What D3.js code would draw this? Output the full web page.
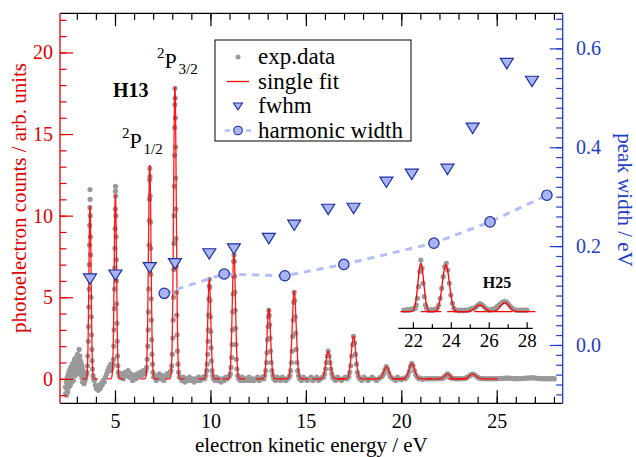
<!DOCTYPE html>
<html><head><meta charset="utf-8">
<script src="https://cdn.jsdelivr.net/npm/d3@7"></script>
<style>body{margin:0;background:#fff}svg{display:block}text{font-family:"Liberation Serif","Times New Roman",serif}</style>
</head><body><svg id="c" width="636" height="457"></svg>
<script>
// ---- data ----
const peakCenters=[3.69,5.02,6.82,8.14,9.94,11.23,13.06,14.39,16.17,17.50,19.22,20.55,22.42,23.74,25.53,26.85];
const peakHeights=[10.6,11.3,13.1,17.9,6.05,7.7,4.28,5.36,1.68,2.6,0.72,0.92,0.29,0.28,0.040,0.054];
const peakFwhm=[0.136,0.144,0.159,0.167,0.187,0.197,0.218,0.245,0.277,0.279,0.332,0.348,0.358,0.441,0.572,0.536];
const harmonicX=[7.58,10.72,13.90,16.99,21.71,24.65,27.63];
const harmonicWidth=[0.1045,0.1436,0.140,0.163,0.206,0.249,0.303];
const xTicks=[5,10,15,20,25];
const yLeftTicks=[0,5,10,15,20];
const yRightTicks=[0.0,0.2,0.4,0.6];
const insetTicks=[22,24,26,28];
const legendLabels=["exp.data","single fit","fwhm","harmonic width"];
const expData=[
[2.40,-0.5],[2.42,-0.9],[2.44,-0.2],[2.46,-1.0],[2.48,-0.6],[2.50,0.1],[2.52,-0.8],[2.54,-0.3],[2.56,0.3],[2.58,-0.5],[2.60,0.5],[2.62,-0.1],[2.64,0.2],[2.66,-0.4],[2.68,0.7],[2.70,0.0],[2.72,0.4],[2.74,-0.2],[2.76,0.9],[2.78,0.3],[2.80,0.6],[2.82,-0.1],[2.84,1.0],[2.86,0.4],[2.88,1.2],[2.90,0.2],[2.92,0.8],[2.94,0.5],[2.96,1.3],[2.98,0.6],[3.00,1.0],[3.02,0.3],[3.04,1.5],[3.06,0.8],[3.08,1.2],[3.10,0.5],[3.12,1.8],[3.14,1.0],[3.16,1.4],[3.18,0.6],[3.20,1.1],[3.22,0.3],[3.24,0.9],[3.26,0.1],[3.28,0.7],[3.30,-0.2],[3.32,0.5],[3.34,-0.1],[3.36,0.3],[3.38,-0.3],[3.40,0.2],[3.42,-0.1],[3.44,0.3],[3.46,0.0],[3.48,0.2],
[3.50,0.3],[3.53,0.4],[3.56,0.8],[3.58,1.4],[3.60,2.3],[3.615,3.2],[3.63,4.4],[3.645,5.5],[3.655,7.0],[3.665,8.2],[3.675,9.4],[3.683,10.5],[3.69,11.6],[3.697,11.0],[3.705,10.0],[3.713,8.7],[3.722,7.6],[3.732,6.3],[3.742,5.0],[3.755,3.8],[3.77,2.7],[3.785,1.8],[3.80,1.1],[3.82,0.6],[3.85,0.2],[3.88,0.0],
[3.92,-0.1],[3.97,-0.4],[4.02,-0.6],[4.07,-0.5],[4.12,-0.7],[4.17,-0.4],[4.22,-0.6],[4.27,-0.3],[4.32,-0.4],[4.38,-0.1],[4.44,-0.2],[4.50,0.1],[4.56,0.3],[4.62,0.5],[4.68,0.7],[4.73,0.5],[4.78,0.9],[4.83,0.6],[4.87,0.8],[4.90,0.9],
[4.92,1.2],[4.94,2.0],[4.955,3.0],[4.97,4.3],[4.98,5.5],[4.99,6.8],[5.00,8.0],[5.008,9.2],[5.015,10.4],[5.022,11.5],[5.03,11.8],[5.038,11.2],[5.046,10.0],[5.055,8.7],[5.065,7.3],[5.075,6.0],[5.087,4.6],[5.10,3.4],[5.115,2.3],[5.13,1.4],[5.15,0.8],[5.18,0.4],[5.22,0.2],
[5.28,0.1],[5.36,0.3],[5.44,0.0],[5.52,0.4],[5.60,0.2],[5.68,0.5],[5.76,0.1],[5.84,0.3],[5.92,-0.1],[6.00,0.2],[6.08,0.0],[6.16,0.3],[6.24,0.1],[6.32,0.4],[6.40,0.2],[6.48,0.5],[6.55,0.3],[6.62,0.5],
[6.66,0.7],[6.69,1.2],[6.72,2.0],[6.74,3.0],[6.755,4.1],[6.77,5.5],[6.78,6.9],[6.79,8.2],[6.80,9.7],[6.81,11.0],[6.818,12.2],[6.826,12.9],[6.834,12.4],[6.843,11.2],[6.853,9.6],[6.864,8.0],[6.876,6.4],[6.89,4.9],[6.905,3.6],[6.92,2.4],[6.94,1.5],[6.96,0.9],[6.99,0.4],[7.03,0.1],
[7.08,0.2],[7.16,-0.1],[7.24,0.1],[7.32,0.3],[7.40,0.0],[7.48,0.2],[7.56,-0.1],[7.64,0.1],[7.72,0.3],[7.80,0.2],[7.87,0.4],[7.93,0.5],
[7.97,0.8],[8.00,1.5],[8.03,2.5],[8.05,3.6],[8.065,5.0],[8.08,6.7],[8.09,8.3],[8.10,10.0],[8.11,11.8],[8.12,13.7],[8.128,15.4],[8.136,16.8],[8.144,17.8],[8.152,17.2],[8.16,16.0],[8.17,14.2],[8.18,12.3],[8.19,10.4],[8.20,8.6],[8.212,6.9],[8.225,5.3],[8.24,3.9],[8.256,2.7],[8.275,1.7],[8.30,0.9],[8.33,0.4],[8.37,0.1],
[8.42,0.1],[8.50,-0.1],[8.58,0.1],[8.66,-0.2],[8.74,0.0],[8.82,-0.1],[8.90,0.1],[8.98,-0.1],[9.06,0.0],[9.14,-0.2],[9.22,0.0],[9.30,-0.1],[9.38,0.1],[9.46,-0.1],[9.54,0.0],[9.62,0.1],[9.70,0.0],
[9.76,0.2],[9.80,0.5],[9.83,0.9],[9.855,1.5],[9.875,2.3],[9.89,3.0],[9.905,3.9],[9.92,4.9],[9.935,5.7],[9.95,6.1],[9.965,5.6],[9.98,4.8],[9.995,3.8],[10.01,2.9],[10.03,1.9],[10.05,1.1],[10.08,0.5],[10.12,0.2],
[10.16,0.0],[10.24,-0.1],[10.32,0.1],[10.40,-0.1],[10.48,0.0],[10.56,-0.2],[10.64,0.0],[10.72,-0.1],[10.80,0.1],[10.88,0.0],[10.95,0.1],[11.01,0.2],
[11.04,0.3],[11.08,0.7],[11.11,1.3],[11.135,2.1],[11.155,3.0],[11.175,4.1],[11.19,5.2],[11.205,6.3],[11.22,7.2],[11.235,7.6],[11.25,7.2],[11.265,6.3],[11.28,5.3],[11.295,4.2],[11.315,3.1],[11.335,2.1],[11.36,1.2],[11.39,0.6],[11.43,0.2],
[11.48,0.0],[11.57,-0.1],[11.66,0.1],[11.75,-0.1],[11.84,0.0],[11.93,-0.1],[12.02,0.1],[12.11,-0.1],[12.20,0.0],[12.29,-0.1],[12.38,0.0],[12.47,0.1],[12.56,-0.1],[12.65,0.0],[12.73,0.1],[12.80,0.0],
[12.85,0.2],[12.90,0.5],[12.94,1.0],[12.97,1.6],[12.995,2.4],[13.02,3.2],[13.04,3.8],[13.06,4.2],[13.08,3.9],[13.10,3.3],[13.125,2.5],[13.15,1.7],[13.18,1.0],[13.22,0.5],[13.27,0.2],
[13.32,0.0],[13.41,-0.1],[13.50,0.1],[13.59,0.0],[13.68,-0.1],[13.77,0.1],[13.86,0.0],[13.95,-0.1],[14.04,0.0],[14.12,0.1],
[14.16,0.2],[14.21,0.5],[14.25,1.0],[14.285,1.7],[14.315,2.6],[14.34,3.6],[14.365,4.7],[14.39,5.3],[14.415,4.8],[14.44,3.8],[14.465,2.8],[14.495,1.8],[14.53,1.0],[14.57,0.5],[14.62,0.2],
[14.67,0.0],[14.77,-0.1],[14.87,0.1],[14.97,0.0],[15.07,-0.1],[15.17,0.0],[15.27,0.1],[15.37,-0.1],[15.47,0.0],[15.57,0.1],[15.67,-0.1],[15.77,0.0],[15.87,0.1],
[15.93,0.1],[15.98,0.3],[16.03,0.6],[16.075,1.0],[16.12,1.4],[16.17,1.7],[16.22,1.4],[16.265,1.0],[16.31,0.6],[16.36,0.3],[16.41,0.1],
[16.46,0.0],[16.56,-0.1],[16.66,0.1],[16.76,0.0],[16.86,-0.1],[16.96,0.0],[17.06,0.1],[17.16,0.0],
[17.25,0.15],[17.30,0.4],[17.35,0.8],[17.40,1.4],[17.45,2.1],[17.50,2.6],[17.55,2.2],[17.60,1.5],[17.65,0.9],[17.70,0.4],[17.75,0.15],
[17.82,0.0],[17.93,-0.1],[18.04,0.1],[18.15,0.0],[18.26,-0.1],[18.37,0.0],[18.48,0.1],[18.59,0.0],[18.70,-0.1],[18.81,0.0],[18.92,0.1],
[19.00,0.15],[19.07,0.3],[19.14,0.55],[19.21,0.75],[19.28,0.6],[19.35,0.35],[19.42,0.15],[19.50,0.05],
[19.60,0.0],[19.70,-0.1],[19.80,0.1],[19.90,0.0],[20.00,-0.05],[20.10,0.05],[20.20,0.0],[20.28,0.1],
[20.34,0.2],[20.41,0.45],[20.48,0.75],[20.55,0.95],[20.62,0.8],[20.69,0.5],[20.76,0.25],[20.84,0.1],
[20.92,0.0],[21.02,0.04],[21.12,-0.03],[21.22,0.005],[21.32,0.01],[21.42,0.005],[21.52,0.01],[21.62,0.008],[21.72,0.012],[21.82,0.01],[21.92,0.015],[22.02,0.015],[22.08,0.02],
[22.12,0.02],[22.18,0.04],[22.24,0.08],[22.30,0.15],[22.36,0.24],[22.42,0.31],[22.48,0.26],[22.54,0.17],[22.60,0.09],[22.66,0.04],[22.72,0.02],[22.80,0.01],[22.88,0.01],[22.96,0.012],[23.04,0.01],[23.12,0.012],[23.20,0.015],
[23.28,0.02],[23.36,0.04],[23.44,0.08],[23.52,0.14],[23.60,0.21],[23.68,0.27],[23.76,0.29],[23.84,0.25],[23.92,0.17],[24.00,0.10],[24.08,0.05],[24.16,0.02],[24.24,0.01],
[24.34,0.01],[24.44,0.005],[24.54,0.01],[24.64,0.005],[24.74,0.01],[24.84,0.01],[24.94,0.01],[25.04,0.015],[25.14,0.02],
[25.24,0.02],[25.34,0.03],[25.44,0.04],[25.54,0.048],[25.64,0.042],[25.74,0.032],[25.84,0.02],[25.94,0.012],[26.04,0.01],[26.14,0.012],[26.24,0.015],
[26.34,0.02],[26.44,0.03],[26.54,0.04],[26.64,0.05],[26.74,0.058],[26.84,0.062],[26.94,0.058],[27.04,0.046],[27.14,0.032],[27.24,0.02],[27.34,0.012],
[27.44,0.01],[27.54,0.008],[27.64,0.01],[27.74,0.008],[27.84,0.01],[27.94,0.008],[28.02,0.01]
];

// ---- setup ----
const RED="#e00000", BLUE="#1f3ec8", GRAY="#999999", MFILL="#a9b4f4", MSTROKE="#1b2f9e", DASH="#b5bdf7";
const L=60,R=562.7,T=13.3,B=403.3;
const x=d3.scaleLinear().domain([2.118,28.458]).range([L,R]);
const yL=d3.scaleLinear().domain([-1.5,22.4]).range([B,T]);
const yR=d3.scaleLinear().domain([-0.118,0.671]).range([B,T]);
const xI=d3.scaleLinear().domain([21.23,28.32]).range([398.3,532.7]);
const yI=d3.scaleLinear().domain([0,0.3]).range([311.7,261.7]);
const svg=d3.select("#c");
const FONT='"Liberation Serif","Times New Roman",serif';

function fitCurve(i){
  const c=peakCenters[i],h=peakHeights[i],f=peakFwhm[i],w=3*f,pts=[];
  for(let k=0;k<=240;k++){const t=c-w+2*w*k/240;pts.push([t,h*Math.exp(-4*Math.LN2*(t-c)*(t-c)/(f*f))]);}
  return pts;
}

// exp data
svg.append("g").selectAll("circle").data(expData).join("circle")
  .attr("cx",d=>x(d[0])).attr("cy",d=>yL(d[1])).attr("r",2.6).attr("fill",GRAY);

// single fits (main)
const lineMain=d3.line().x(d=>x(d[0])).y(d=>yL(d[1]));
svg.append("g").selectAll("path").data(d3.range(0,14).map(fitCurve)).join("path")
  .attr("d",lineMain).attr("fill","none").attr("stroke","#ff0000").attr("stroke-width",1.3).attr("stroke-opacity",0.9);

// harmonic width
const lineR=d3.line().x((d,i)=>x(harmonicX[i])).y(d=>yR(d));
svg.append("path").datum(harmonicWidth).attr("d",lineR).attr("fill","none")
  .attr("stroke",DASH).attr("stroke-width",3).attr("stroke-dasharray","7,6");
svg.append("g").selectAll("circle").data(harmonicWidth).join("circle")
  .attr("cx",(d,i)=>x(harmonicX[i])).attr("cy",d=>yR(d)).attr("r",5.2)
  .attr("fill",MFILL).attr("stroke",MSTROKE).attr("stroke-width",1.2);

// fwhm triangles
const tri="M-6.5,-3.8L6.5,-3.8L0,6.6Z";
svg.append("g").selectAll("path").data(peakFwhm).join("path")
  .attr("d",tri).attr("transform",(d,i)=>`translate(${x(peakCenters[i])},${yR(d)})`)
  .attr("fill",MFILL).attr("stroke",MSTROKE).attr("stroke-width",1.2);

// ---- axes ----
function styleAxis(g,color){g.attr("font-size",20).attr("font-family",FONT).attr("color",color);g.select(".domain").remove();g.selectAll(".tick line").attr("stroke-width",1.2);}
svg.append("g").attr("transform",`translate(0,${B})`).call(d3.axisBottom(x).tickValues(d3.range(3,29)).tickSize(-6.5).tickFormat("")).call(g=>styleAxis(g,"#000"));
svg.append("g").attr("transform",`translate(0,${T})`).call(d3.axisTop(x).tickValues(d3.range(3,29)).tickSize(-6.5).tickFormat("")).call(g=>styleAxis(g,"#000"));
svg.append("g").attr("transform",`translate(${L},0)`).call(d3.axisLeft(yL).tickValues(d3.range(-1,23)).tickSize(-6.5).tickFormat("")).call(g=>styleAxis(g,RED));
svg.append("g").attr("transform",`translate(${R},0)`).call(d3.axisRight(yR).tickValues(d3.range(-5,34).map(i=>+(i*0.02).toFixed(2))).tickSize(-6.5).tickFormat("")).call(g=>styleAxis(g,BLUE));
svg.append("g").attr("transform",`translate(0,${B})`).call(d3.axisBottom(x).tickValues(xTicks).tickSize(-13).tickPadding(11).tickFormat(d3.format("d"))).call(g=>styleAxis(g,"#000"));
svg.append("g").attr("transform",`translate(0,${T})`).call(d3.axisTop(x).tickValues(xTicks).tickSize(-13).tickFormat("")).call(g=>styleAxis(g,"#000"));
svg.append("g").attr("transform",`translate(${L},0)`).call(d3.axisLeft(yL).tickValues(yLeftTicks).tickSize(-13).tickPadding(7).tickFormat(d3.format("d"))).call(g=>styleAxis(g,RED));
svg.append("g").attr("transform",`translate(${R},0)`).call(d3.axisRight(yR).tickValues(yRightTicks).tickSize(-13).tickPadding(13.3).tickFormat(d3.format(".1f"))).call(g=>styleAxis(g,BLUE));
svg.append("line").attr("x1",L).attr("x2",R).attr("y1",T).attr("y2",T).attr("stroke","#000").attr("stroke-width",1.3);
svg.append("line").attr("x1",L).attr("x2",R).attr("y1",B).attr("y2",B).attr("stroke","#000").attr("stroke-width",1.3);
svg.append("line").attr("x1",L).attr("x2",L).attr("y1",T).attr("y2",B).attr("stroke",RED).attr("stroke-width",1.3);
svg.append("line").attr("x1",R).attr("x2",R).attr("y1",T).attr("y2",B).attr("stroke",BLUE).attr("stroke-width",1.3);

// titles
svg.append("text").attr("x",(L+R)/2).attr("y",452).attr("text-anchor","middle").attr("font-size",21).text("electron kinetic energy / eV");
svg.append("text").attr("transform","translate(26,198) rotate(-90)").attr("text-anchor","middle").attr("font-size",21).attr("fill",RED).text("photoelectron counts / arb. units");
svg.append("text").attr("transform","translate(618,200) rotate(90)").attr("text-anchor","middle").attr("font-size",21).attr("fill",BLUE).text("peak width / eV");

// annotations
svg.append("text").attr("x",113).attr("y",97).attr("font-size",20).attr("font-weight","bold").text("H13");
function term(x0,yb,sup,sub){
  svg.append("text").attr("x",x0).attr("y",yb-10).attr("font-size",15).text(sup);
  svg.append("text").attr("x",x0+7.5).attr("y",yb).attr("font-size",22).text("P");
  svg.append("text").attr("x",x0+21.5).attr("y",yb+6).attr("font-size",15).text(sub);
}
term(157,68,"2","3/2");
term(122,148,"2","1/2");

// ---- inset ----
const inset=svg.append("g");
inset.append("g").selectAll("circle").data(expData.filter(d=>d[0]>=21.45)).join("circle")
  .attr("cx",d=>xI(d[0])).attr("cy",d=>yI(d[1])).attr("r",2.6).attr("fill",GRAY);
const lineI=d3.line().x(d=>xI(d[0])).y(d=>yI(d[1]));
inset.append("g").selectAll("path").data(d3.range(12,16).map(fitCurve)).join("path")
  .attr("d",lineI).attr("fill","none").attr("stroke","#ff0000").attr("stroke-width",1.3);
inset.append("g").attr("transform","translate(0,328.3)").call(d3.axisBottom(xI).tickValues([23,25,27]).tickSize(-4).tickFormat("")).call(g=>styleAxis(g,"#000"));
inset.append("g").attr("transform","translate(0,328.3)").call(d3.axisBottom(xI).tickValues(insetTicks).tickSize(-6).tickPadding(5).tickFormat(d3.format("d"))).call(g=>{styleAxis(g,"#000");g.attr("font-size",19);});
inset.append("line").attr("x1",398.3).attr("x2",532.7).attr("y1",328.3).attr("y2",328.3).attr("stroke","#000").attr("stroke-width",1.2);
inset.append("text").attr("x",482.7).attr("y",288).attr("font-size",16).attr("font-weight","bold").text("H25");

// ---- legend ----
const lg=svg.append("g");
lg.append("rect").attr("x",215).attr("y",40).attr("width",196).attr("height",101).attr("fill","#fff").attr("stroke","#000").attr("stroke-width",1);
const rows=[64,88.5,113,137.5];
lg.selectAll("text").data(legendLabels).join("text").attr("x",258).attr("y",(d,i)=>rows[i]).attr("font-size",23).text(d=>d);
lg.append("circle").attr("cx",238).attr("cy",rows[0]-7).attr("r",2.5).attr("fill",GRAY);
lg.append("line").attr("x1",227).attr("x2",249).attr("y1",rows[1]-7).attr("y2",rows[1]-7).attr("stroke","#ff0000").attr("stroke-width",1.3);
lg.append("path").attr("d","M-4.5,-3L4.5,-3L0,4Z").attr("transform",`translate(238,${rows[2]-7})`).attr("fill",MFILL).attr("stroke",MSTROKE).attr("stroke-width",1.1);
lg.append("line").attr("x1",225).attr("x2",251).attr("y1",rows[3]-7).attr("y2",rows[3]-7).attr("stroke",DASH).attr("stroke-width",2.5).attr("stroke-dasharray","5,16");
lg.append("circle").attr("cx",238).attr("cy",rows[3]-7).attr("r",4.3).attr("fill",MFILL).attr("stroke",MSTROKE).attr("stroke-width",1.1);
</script></body></html>
